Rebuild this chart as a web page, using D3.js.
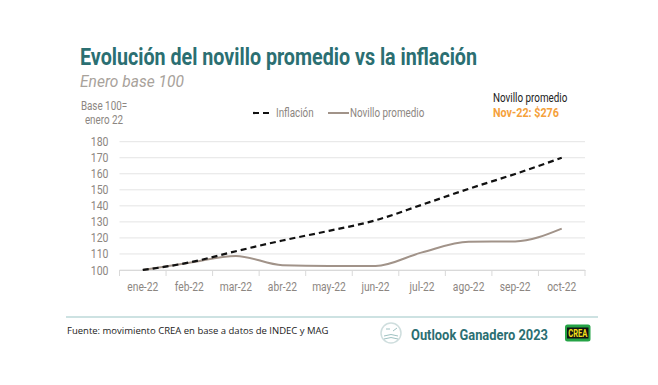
<!DOCTYPE html>
<html>
<head>
<meta charset="utf-8">
<script src="https://cdn.jsdelivr.net/npm/d3@7"></script>
<style>
  body { margin: 0; background: #fff; }
  text { font-family: Roboto, "Liberation Sans", sans-serif; }
</style>
</head>
<body>
<div id="chart"></div>
<script>
// data (enero = 100)
var months = ["ene-22", "feb-22", "mar-22", "abr-22", "may-22", "jun-22", "jul-22", "ago-22", "sep-22", "oct-22"];
var inflacion = [100, 104.7, 111.7, 118.4, 124.4, 131.0, 140.7, 150.6, 159.9, 170.0];
var novillo = [100, 104.5, 108.8, 103, 102.5, 102.5, 111, 117.6, 117.8, 125.8];
var yTicks = [100, 110, 120, 130, 140, 150, 160, 170, 180];

var svgWidth = 658, svgHeight = 385;
var svg = d3.select("#chart").append("svg")
    .attr("width", svgWidth)
    .attr("height", svgHeight);

var x = d3.scaleBand().domain(months).range([119.5, 585]);
var y = d3.scaleLinear().domain([100, 180]).range([270, 141.7]);

var grey = "#8c8681";

// squeeze text to look like a condensed font
function condense(sel, k) {
    sel.each(function() {
        var len = this.getComputedTextLength();
        d3.select(this).attr("textLength", len * k).attr("lengthAdjust", "spacingAndGlyphs");
    });
}

// titles
svg.append("text")
    .attr("x", 80).attr("y", 65)
    .attr("textLength", 397).attr("lengthAdjust", "spacingAndGlyphs")
    .style("font-size", "24px").style("font-weight", "bold")
    .attr("fill", "#2b6f72")
    .text("Evolución del novillo promedio vs la inflación");

svg.append("text")
    .attr("x", 80).attr("y", 87)
    .attr("textLength", 104).attr("lengthAdjust", "spacingAndGlyphs")
    .style("font-size", "17px").style("font-style", "italic")
    .attr("fill", "#a8a29b")
    .text("Enero base 100");

svg.append("text")
    .attr("x", 104).attr("y", 110).attr("text-anchor", "middle")
    .style("font-size", "12px").attr("fill", grey)
    .text("Base 100=").call(condense, 0.82);
svg.append("text")
    .attr("x", 104).attr("y", 124).attr("text-anchor", "middle")
    .style("font-size", "12px").attr("fill", grey)
    .text("enero 22").call(condense, 0.82);

// top right note
svg.append("text")
    .attr("x", 493).attr("y", 102)
    .style("font-size", "12px").attr("fill", "#222")
    .text("Novillo promedio").call(condense, 0.82);
svg.append("text")
    .attr("x", 493).attr("y", 117)
    .style("font-size", "12.5px").style("font-weight", "bold")
    .attr("fill", "#f5a13c")
    .text("Nov-22: $276").call(condense, 0.86);

// gridlines
svg.append("g")
    .selectAll("line")
    .data(yTicks)
    .enter()
    .append("line")
    .attr("x1", 119.5).attr("x2", 585)
    .attr("y1", d => y(d)).attr("y2", d => y(d))
    .attr("stroke", "#e4e4e4").attr("stroke-width", 1);

// y axis
var leftAxis = d3.axisLeft(y).tickValues(yTicks).tickSize(0).tickPadding(11);
var gy = svg.append("g").attr("transform", "translate(119.5,0)").call(leftAxis);
gy.select(".domain").remove();
gy.selectAll("text").style("font-size", "12.5px").attr("fill", grey)
    .style("font-family", "Roboto, sans-serif").call(condense, 0.84);

// x axis
var bottomAxis = d3.axisBottom(x).tickSize(0).tickPadding(12);
var gx = svg.append("g").attr("transform", "translate(0,270)").call(bottomAxis);
gx.select(".domain").attr("stroke", "#d9d9d9");
gx.selectAll("text").style("font-size", "12.5px").attr("fill", grey)
    .style("font-family", "Roboto, sans-serif").call(condense, 0.82);
// tick marks between categories
svg.append("g")
    .selectAll("line")
    .data(d3.range(months.length + 1))
    .enter()
    .append("line")
    .attr("x1", d => x(months[0]) + d * x.step())
    .attr("x2", d => x(months[0]) + d * x.step())
    .attr("y1", 270).attr("y2", 276)
    .attr("stroke", "#d9d9d9");

var cx = d => x(d) + x.bandwidth() / 2;

var line = d3.line()
    .x((d, i) => cx(months[i]))
    .y(d => y(d))
    .curve(d3.curveMonotoneX);

svg.append("path")
    .datum(novillo)
    .attr("d", line)
    .attr("fill", "none")
    .attr("stroke", "#a19389")
    .attr("stroke-width", 2);

svg.append("path")
    .datum(inflacion)
    .attr("d", line)
    .attr("fill", "none")
    .attr("stroke", "#111")
    .attr("stroke-width", 2.2)
    .attr("stroke-dasharray", "6,4");

// legend
svg.append("line")
    .attr("x1", 253).attr("x2", 272).attr("y1", 113).attr("y2", 113)
    .attr("stroke", "#111").attr("stroke-width", 2.2).attr("stroke-dasharray", "6,4");
svg.append("text")
    .attr("x", 276).attr("y", 117)
    .style("font-size", "12px").attr("fill", grey)
    .text("Inflación").call(condense, 0.82);
svg.append("line")
    .attr("x1", 328).attr("x2", 349).attr("y1", 113).attr("y2", 113)
    .attr("stroke", "#a19389").attr("stroke-width", 2);
svg.append("text")
    .attr("x", 350).attr("y", 117)
    .style("font-size", "12px").attr("fill", grey)
    .text("Novillo promedio").call(condense, 0.82);

// footer
svg.append("line")
    .attr("x1", 66).attr("x2", 598).attr("y1", 317).attr("y2", 317)
    .attr("stroke", "#bcd9d9").attr("stroke-width", 1.5);
svg.append("text")
    .attr("x", 67).attr("y", 334)
    .style("font-size", "9.5px").style("font-family", "'Open Sans', sans-serif")
    .attr("fill", "#222")
    .text("Fuente: movimiento CREA en base a datos de INDEC y MAG");

svg.append("circle")
    .attr("cx", 391).attr("cy", 333).attr("r", 10)
    .attr("fill", "#fff").attr("stroke", "#cfdede").attr("stroke-width", 1.5);
svg.append("path")
    .attr("d", "M384,336 Q391,333 398,336 M384,339 Q391,336 398,339 M386,329 L390,329 M393,331 L397,328")
    .attr("fill", "none").attr("stroke", "#9fc2c2").attr("stroke-width", 1);

svg.append("text")
    .attr("x", 411).attr("y", 340)
    .attr("textLength", 137).attr("lengthAdjust", "spacingAndGlyphs")
    .style("font-size", "15px").style("font-weight", "bold")
    .attr("fill", "#2b6f72")
    .text("Outlook Ganadero 2023");

svg.append("rect")
    .attr("x", 565).attr("y", 324.5).attr("width", 25.5).attr("height", 17).attr("rx", 2.5)
    .attr("fill", "#25a346");
svg.append("rect")
    .attr("x", 567).attr("y", 327.5).attr("width", 21.5).attr("height", 11)
    .attr("fill", "#111");
svg.append("text")
    .attr("x", 577.75).attr("y", 337).attr("text-anchor", "middle")
    .attr("textLength", 19).attr("lengthAdjust", "spacingAndGlyphs")
    .style("font-size", "10px").style("font-weight", "bold")
    .attr("fill", "#f4e01c")
    .text("CREA");
</script>
</body>
</html>
